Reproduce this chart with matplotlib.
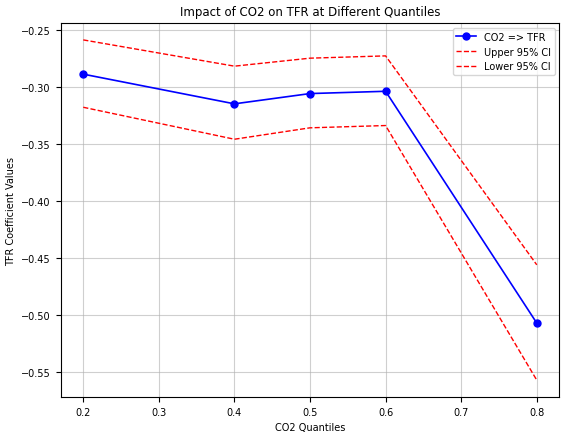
import matplotlib.pyplot as plt

quantiles = [0.2, 0.4, 0.5, 0.6, 0.8]
coef = [-0.289, -0.315, -0.306, -0.304, -0.507]
upper_ci = [-0.259, -0.282, -0.275, -0.273, -0.456]
lower_ci = [-0.318, -0.346, -0.336, -0.334, -0.557]

fig, ax = plt.subplots(figsize=(5.65, 4.39), dpi=100)
ax.plot(quantiles, coef, marker='o', markersize=5, linewidth=1.2, color='blue', label='CO2 => TFR')
ax.plot(quantiles, upper_ci, linestyle='--', color='red', linewidth=1, label='Upper 95% CI')
ax.plot(quantiles, lower_ci, linestyle='--', color='red', linewidth=1, label='Lower 95% CI')

ax.set_title('Impact of CO2 on TFR at Different Quantiles', fontsize=8.5)
ax.set_xlabel('CO2 Quantiles', fontsize=7)
ax.set_ylabel('TFR Coefficient Values', fontsize=7)
ax.tick_params(labelsize=7)
ax.legend(fontsize=7)
ax.grid(True, alpha=0.6)

plt.tight_layout(pad=0.4)
plt.savefig('out.png')
